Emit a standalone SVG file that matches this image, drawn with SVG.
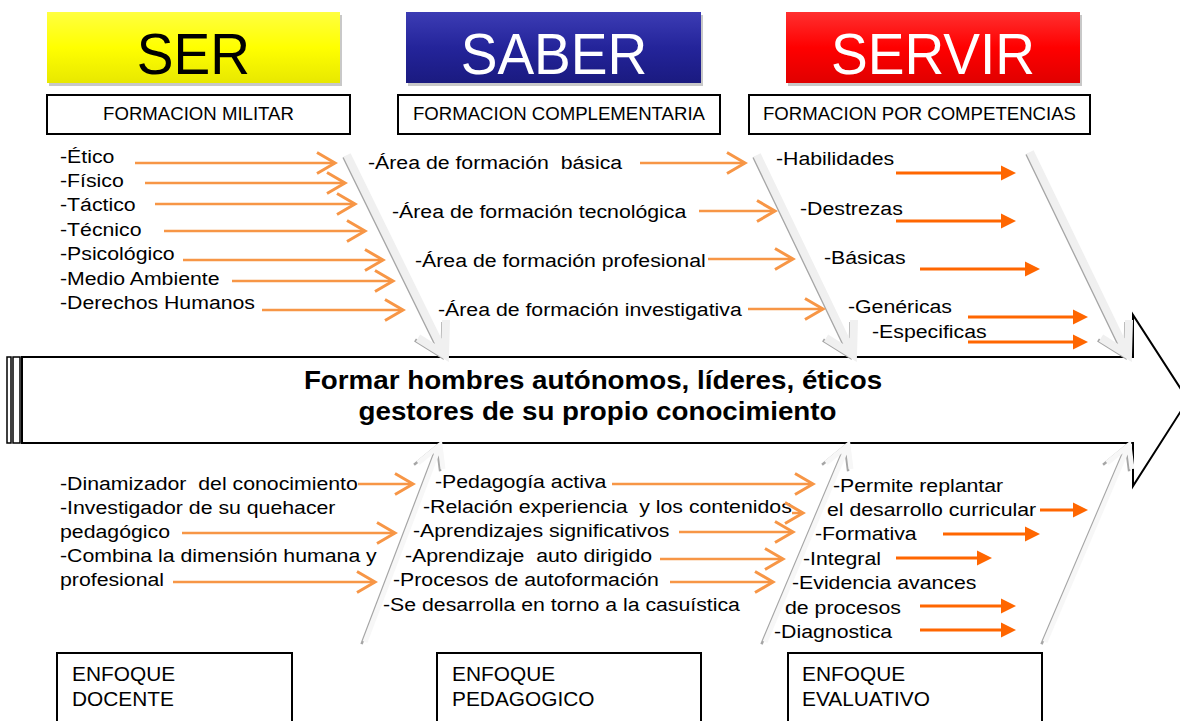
<svg xmlns="http://www.w3.org/2000/svg" width="1180" height="721" viewBox="0 0 1180 721">
<defs>
<style>
.t{font-family:"Liberation Sans",Arial,sans-serif;font-size:19px;fill:#000;white-space:pre}
.h{font-family:"Liberation Sans",Arial,sans-serif;font-size:18.6px;fill:#000;text-anchor:middle}
.big{font-family:"Liberation Sans",Arial,sans-serif;font-size:58px;text-anchor:middle}
.c{font-family:"Liberation Sans",Arial,sans-serif;font-size:25px;font-weight:bold;text-anchor:middle;fill:#000}
.e{font-family:"Liberation Sans",Arial,sans-serif;font-size:19.5px;fill:#000}
.box{fill:#fff;stroke:#000;stroke-width:2}
.oa{stroke:#f79646;stroke-width:2.5;fill:none;marker-end:url(#open)}
.sa{stroke:#ff6600;stroke-width:3;fill:none;marker-end:url(#solid)}
.bs{fill:none;stroke:#a6a6a6;stroke-width:3.5;stroke-linejoin:miter}
.bm{fill:none;stroke:#f0f0f0;stroke-width:8;stroke-linejoin:miter}
.ls{fill:none;stroke:#a6a6a6;stroke-width:2.5;stroke-linecap:square}
.lm{fill:none;stroke:#f7f7f7;stroke-width:5}
</style>
<marker id="open" markerUnits="userSpaceOnUse" markerWidth="22" markerHeight="26" refX="19" refY="12" orient="auto" viewBox="0 0 22 24">
<path d="M1,1.5 L19,12 L1,22.5" fill="none" stroke="#f79646" stroke-width="3"/>
</marker>
<marker id="solid" markerUnits="userSpaceOnUse" markerWidth="16" markerHeight="16" refX="3" refY="8" orient="auto" viewBox="0 0 16 16">
<path d="M0,0.5 L15,8 L0,15.5 Z" fill="#ff6600"/>
</marker>
<linearGradient id="gy" x1="0" y1="0" x2="0" y2="1"><stop offset="0" stop-color="#ffff40"/><stop offset="0.5" stop-color="#ffff00"/><stop offset="1" stop-color="#e8e800"/></linearGradient>
<linearGradient id="gb" x1="0" y1="0" x2="0" y2="1"><stop offset="0" stop-color="#3c3cb4"/><stop offset="0.5" stop-color="#24249a"/><stop offset="1" stop-color="#1a1a80"/></linearGradient>
<linearGradient id="gr" x1="0" y1="0" x2="0" y2="1"><stop offset="0" stop-color="#ff3030"/><stop offset="0.5" stop-color="#ff0000"/><stop offset="1" stop-color="#e00000"/></linearGradient>
</defs>
<rect width="1180" height="721" fill="#fff"/>

<g id="ser">
<rect x="49" y="15" width="293" height="71" fill="#c8c8c8"/>
<rect x="47" y="12" width="293" height="71" fill="url(#gy)"/>
<text class="big" transform="matrix(0.95 0 0 1 193.5 74)" fill="#000">SER</text>
</g>
<g id="saber">
<rect x="408" y="15" width="295" height="71" fill="#c8c8c8"/>
<rect x="406" y="12" width="295" height="71" fill="url(#gb)"/>
<text class="big" transform="matrix(0.95 0 0 1 554 74)" fill="#fff">SABER</text>
</g>
<g id="servir">
<rect x="788" y="15" width="294" height="71" fill="#c8c8c8"/>
<rect x="786" y="12" width="294" height="71" fill="url(#gr)"/>
<text class="big" transform="matrix(0.95 0 0 1 933 74)" fill="#fff">SERVIR</text>
</g>

<g id="formacion-militar">
<rect class="box" x="47" y="95" width="303" height="39"/>
<text class="h" x="198.5" y="120">FORMACION MILITAR</text>
</g>
<g id="formacion-complementaria">
<rect class="box" x="398" y="95" width="322" height="39"/>
<text class="h" x="559" y="120">FORMACION COMPLEMENTARIA</text>
</g>
<g id="formacion-competencias">
<rect class="box" x="749" y="95" width="341" height="39"/>
<text class="h" x="919.5" y="120">FORMACION POR COMPETENCIAS</text>
</g>

<g id="spine">
<rect x="7" y="357" width="4" height="86" fill="#fff" stroke="#000" stroke-width="1.5"/>
<rect x="13" y="357" width="7" height="86" fill="#fff" stroke="#000" stroke-width="1.5"/>
<path d="M22,357 L1133,357 L1133,315 L1188,400 L1133,486 L1133,443 L22,443 Z" fill="#fff" stroke="#000" stroke-width="2"/>
<text class="c" transform="matrix(1.11 0 0 1 593 389)">Formar hombres autónomos, líderes, éticos</text>
<text class="c" transform="matrix(1.11 0 0 1 597.5 420)">gestores de su propio conocimiento</text>
</g>

<g id="bones">
<path class="bs" transform="translate(-3,2)" d="M347,155 L445,355 M418,338 L445,355 L446,320"/>
<path class="bm" d="M347,155 L445,355 M418,338 L445,355 L446,320"/>
<path class="bs" transform="translate(-3,2)" d="M757,155 L853,355 M826,338 L853,355 L854,320"/>
<path class="bm" d="M757,155 L853,355 M826,338 L853,355 L854,320"/>
<path class="bs" transform="translate(-3,2)" d="M1030,152 L1128,355 M1101,338 L1128,355 L1129,320"/>
<path class="bm" d="M1030,152 L1128,355 M1101,338 L1128,355 L1129,320"/>

<path class="ls" d="M362,643 L437,446 M415,464 L437,446 L440,470"/>
<path class="lm" transform="translate(3,-1)" d="M362,643 L437,446 M415,464 L437,446 L440,470"/>
<path class="ls" d="M762,643 L845,446 M823,464 L845,446 L848,470"/>
<path class="lm" transform="translate(3,-1)" d="M762,643 L845,446 M823,464 L845,446 L848,470"/>
<path class="ls" d="M1042,643 L1126,446 M1104,464 L1126,446 L1129,470"/>
<path class="lm" transform="translate(3,-1)" d="M1042,643 L1126,446 M1104,464 L1126,446 L1129,470"/>
</g>

<g id="ser-items">
<text class="t" transform="matrix(1.12 0 0 1 60 163)">-Ético</text>
<text class="t" transform="matrix(1.12 0 0 1 60 187)">-Físico</text>
<text class="t" transform="matrix(1.12 0 0 1 60 211)">-Táctico</text>
<text class="t" transform="matrix(1.12 0 0 1 60 236)">-Técnico</text>
<text class="t" transform="matrix(1.12 0 0 1 60 260)">-Psicológico</text>
<text class="t" transform="matrix(1.12 0 0 1 60 285)">-Medio Ambiente</text>
<text class="t" transform="matrix(1.12 0 0 1 60 309)">-Derechos Humanos</text>
</g>
<g id="saber-items">
<text class="t" xml:space="preserve" transform="matrix(1.12 0 0 1 368 169)">-Área de formación  básica</text>
<text class="t" transform="matrix(1.12 0 0 1 392 218)">-Área de formación tecnológica</text>
<text class="t" transform="matrix(1.12 0 0 1 415 267)">-Área de formación profesional</text>
<text class="t" transform="matrix(1.12 0 0 1 438 316)">-Área de formación investigativa</text>
</g>
<g id="servir-items">
<text class="t" transform="matrix(1.12 0 0 1 776 165)">-Habilidades</text>
<text class="t" transform="matrix(1.12 0 0 1 800 215)">-Destrezas</text>
<text class="t" transform="matrix(1.12 0 0 1 824 264)">-Básicas</text>
<text class="t" transform="matrix(1.12 0 0 1 848 313)">-Genéricas</text>
<text class="t" transform="matrix(1.12 0 0 1 872 338)">-Especificas</text>
</g>
<g id="docente-items">
<text class="t" xml:space="preserve" transform="matrix(1.12 0 0 1 60 490)">-Dinamizador  del conocimiento</text>
<text class="t" transform="matrix(1.12 0 0 1 60 514)">-Investigador de su quehacer</text>
<text class="t" transform="matrix(1.12 0 0 1 60 538)">pedagógico</text>
<text class="t" transform="matrix(1.12 0 0 1 60 562)">-Combina la dimensión humana y</text>
<text class="t" transform="matrix(1.12 0 0 1 60 586)">profesional</text>
</g>
<g id="pedagogico-items">
<text class="t" transform="matrix(1.12 0 0 1 435 488)">-Pedagogía activa</text>
<text class="t" xml:space="preserve" transform="matrix(1.12 0 0 1 423 513)">-Relación experiencia  y los contenidos</text>
<text class="t" transform="matrix(1.12 0 0 1 413 537)">-Aprendizajes significativos</text>
<text class="t" xml:space="preserve" transform="matrix(1.12 0 0 1 405 562)">-Aprendizaje  auto dirigido</text>
<text class="t" transform="matrix(1.12 0 0 1 393 586)">-Procesos de autoformación</text>
<text class="t" transform="matrix(1.12 0 0 1 383 611)">-Se desarrolla en torno a la casuística</text>
</g>
<g id="evaluativo-items">
<text class="t" transform="matrix(1.12 0 0 1 833 492)">-Permite replantar</text>
<text class="t" transform="matrix(1.12 0 0 1 827 516)">el desarrollo curricular</text>
<text class="t" transform="matrix(1.12 0 0 1 815 540)">-Formativa</text>
<text class="t" transform="matrix(1.12 0 0 1 803 565)">-Integral</text>
<text class="t" transform="matrix(1.12 0 0 1 792 589)">-Evidencia avances</text>
<text class="t" transform="matrix(1.12 0 0 1 785 614)">de procesos</text>
<text class="t" transform="matrix(1.12 0 0 1 774 638)">-Diagnostica</text>
</g>

<g id="connectors">
<line class="oa" x1="135" y1="163" x2="335" y2="163"/>
<line class="oa" x1="145" y1="183" x2="345" y2="183"/>
<line class="oa" x1="155" y1="204" x2="355" y2="204"/>
<line class="oa" x1="164" y1="231" x2="365" y2="231"/>
<line class="oa" x1="183" y1="260" x2="383" y2="260"/>
<line class="oa" x1="232" y1="281" x2="393" y2="281"/>
<line class="oa" x1="262" y1="310" x2="403" y2="310"/>
<line class="oa" x1="640" y1="163" x2="745" y2="163"/>
<line class="oa" x1="699" y1="211" x2="775" y2="211"/>
<line class="oa" x1="708" y1="259" x2="793" y2="259"/>
<line class="oa" x1="748" y1="309" x2="823" y2="309"/>
<line class="oa" x1="358" y1="484" x2="413" y2="484"/>
<line class="oa" x1="182" y1="533" x2="395" y2="533"/>
<line class="oa" x1="173" y1="582" x2="375" y2="582"/>
<line class="oa" x1="612" y1="484" x2="813" y2="484"/>
<line class="oa" x1="792" y1="513" x2="803" y2="513"/>
<line class="oa" x1="679" y1="532" x2="793" y2="532"/>
<line class="oa" x1="660" y1="559" x2="783" y2="559"/>
<line class="oa" x1="670" y1="582" x2="773" y2="582"/>

<line class="sa" x1="896" y1="173" x2="1004" y2="173"/>
<line class="sa" x1="896" y1="221" x2="1004" y2="221"/>
<line class="sa" x1="920" y1="269" x2="1028" y2="269"/>
<line class="sa" x1="968" y1="317" x2="1076" y2="317"/>
<line class="sa" x1="968" y1="342" x2="1076" y2="342"/>
<line class="sa" x1="1040" y1="510" x2="1076" y2="510"/>
<line class="sa" x1="943" y1="534" x2="1028" y2="534"/>
<line class="sa" x1="896" y1="558" x2="980" y2="558"/>
<line class="sa" x1="920" y1="606" x2="1004" y2="606"/>
<line class="sa" x1="920" y1="630" x2="1004" y2="630"/>
</g>

<g id="enfoque-docente">
<rect class="box" x="57" y="653" width="235" height="80"/>
<text class="e" transform="matrix(1.07 0 0 1 72 681)">ENFOQUE</text>
<text class="e" transform="matrix(1.07 0 0 1 72 706)">DOCENTE</text>
</g>
<g id="enfoque-pedagogico">
<rect class="box" x="437" y="653" width="264" height="80"/>
<text class="e" transform="matrix(1.07 0 0 1 452 681)">ENFOQUE</text>
<text class="e" transform="matrix(1.07 0 0 1 452 706)">PEDAGOGICO</text>
</g>
<g id="enfoque-evaluativo">
<rect class="box" x="788" y="653" width="254" height="80"/>
<text class="e" transform="matrix(1.07 0 0 1 802 681)">ENFOQUE</text>
<text class="e" transform="matrix(1.07 0 0 1 802 706)">EVALUATIVO</text>
</g>
</svg>
